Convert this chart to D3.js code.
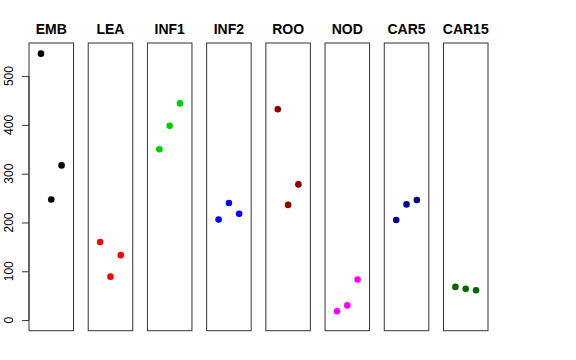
<!DOCTYPE html>
<html><head><meta charset="utf-8">
<script src="https://cdn.jsdelivr.net/npm/d3@7"></script>
<style>body{margin:0;background:#fff}svg{display:block}</style>
</head><body>
<svg id="c" width="576" height="360"></svg>
<script>
const categories = ["EMB","LEA","INF1","INF2","ROO","NOD","CAR5","CAR15"];
const colors = ["#000000","#ff0000","#00cd00","#0000ff","#8b0000","#ff00ff","#00008b","#006400"];
const values = [
  [546, 247, 317],
  [160, 89, 133],
  [350, 398, 444],
  [206, 240, 218],
  [432, 236, 278],
  [18, 30, 83],
  [205, 237, 246],
  [68, 64, 61]
];
const yTicks = [0,100,200,300,400,500];

const svg = d3.select("#c");
const font = "Liberation Sans, Arial, Helvetica, sans-serif";
const panel = d3.scaleBand().domain(categories).range([29, 488]).paddingInner(0.248).paddingOuter(0);
const y = d3.scaleLinear().domain([-21.8, 567.8]).range([330.7, 43]);
const bw = panel.bandwidth();
const xi = d3.scaleLinear().domain([-0.16, 4.16]).range([0, bw]);

categories.forEach((cat, i) => {
  const g = svg.append("g").attr("transform", `translate(${panel(cat)},0)`);
  g.append("rect").attr("x", 0).attr("y", y.range()[1]).attr("width", bw)
    .attr("height", y.range()[0] - y.range()[1])
    .attr("fill", "none").attr("stroke", "#333").attr("stroke-width", 1);
  g.append("text").attr("x", bw/2).attr("y", 34).attr("text-anchor", "middle")
    .attr("font-family", font).attr("font-weight", "bold").attr("font-size", 14)
    .text(cat);
  g.selectAll("circle").data(values[i]).enter().append("circle")
    .attr("cx", (d, j) => xi(j + 1)).attr("cy", d => y(d)).attr("r", 3.3)
    .attr("fill", colors[i]);
});

const axis = d3.axisLeft(y).tickValues(yTicks).tickSize(7).tickSizeOuter(0).tickPadding(0).tickFormat(d3.format("d"));
const ag = svg.append("g").attr("transform", `translate(${panel(categories[0])},0)`);
ag.call(axis);
ag.select(".domain").attr("d", `M0,${y(0)}V${y(500)}`).attr("stroke", "#333");
ag.selectAll(".tick line").attr("stroke", "#333");
ag.selectAll(".tick text").remove();
yTicks.forEach(t => {
  ag.append("text").attr("transform", `translate(-16,${y(t)}) rotate(-90)`)
    .attr("text-anchor", "middle").attr("font-family", font).attr("font-size", 12)
    .attr("fill", "#000").text(t);
});
</script>
</body></html>
